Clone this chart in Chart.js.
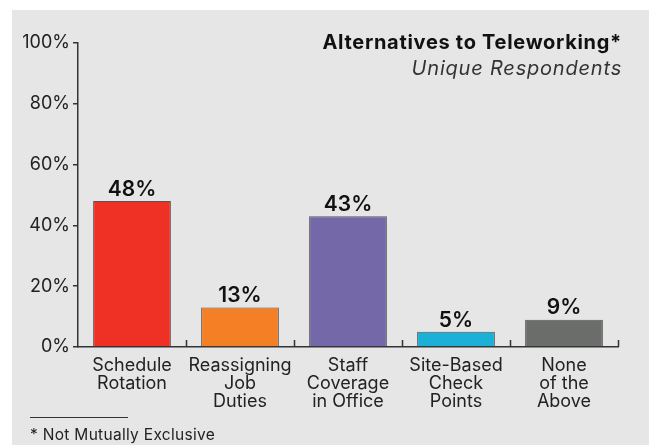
<!DOCTYPE html>
<html>
<head>
<meta charset="utf-8">
<script src="https://cdn.jsdelivr.net/npm/chart.js@4"></script>
<style>
  body { margin: 0; background: #fff; font-family: Inter, "Noto Sans", sans-serif; }
  .panel { position: absolute; left: 12px; top: 10px; width: 637px; height: 435px; background: #e6e6e6; }
  .wrap { position: absolute; left: 0; top: 0; width: 649px; height: 445px; }
  .title { position: absolute; right: 27px; top: 30px; font-size: 20px; letter-spacing: 0.7px; font-weight: 700; color: #111; text-align: right; }
  .sub { position: absolute; right: 27px; top: 56px; font-size: 20px; letter-spacing: 0.8px; font-style: italic; color: #333; text-align: right; }
  .rule { position: absolute; left: 30px; top: 417px; width: 98px; border-top: 1px solid #333; }
  .note { position: absolute; left: 30px; top: 425px; font-size: 15.5px; letter-spacing: 0.3px; color: #222; }
</style>
</head>
<body>
<div class="panel"></div>
<div class="wrap"><canvas id="chart" width="649" height="445"></canvas></div>
<div class="title">Alternatives to Teleworking*</div>
<div class="sub">Unique Respondents</div>
<div class="rule"></div>
<div class="note">* Not Mutually Exclusive</div>

<script>
// Data
var categories = [
	['Schedule', 'Rotation'],
	['Reassigning', 'Job', 'Duties'],
	['Staff', 'Coverage', 'in Office'],
	['Site-Based', 'Check', 'Points'],
	['None', 'of the', 'Above']
];
var values = [48, 13, 43, 5, 9];
var colors = ['#ee3124', '#f47f24', '#7468a8', '#1ab0d8', '#6b6d6b'];
var yTicks = [0, 20, 40, 60, 80, 100];

var axisColor = '#333';
var font = 'Inter, "Noto Sans", sans-serif';

// value labels + little upward ticks on the x axis
var extras = {
	id: 'extras',
	afterDatasetsDraw: function(chart) {
		var ctx = chart.ctx;
		var meta = chart.getDatasetMeta(0);
		ctx.save();
		ctx.fillStyle = '#111';
		ctx.font = '600 21px ' + font;
		ctx.textAlign = 'center';
		ctx.textBaseline = 'bottom';
		meta.data.forEach(function(bar, i) {
			ctx.fillText(values[i] + '%', bar.x, bar.y - 1);
		});

		var x = chart.scales.x;
		var half = (x.getPixelForValue(1) - x.getPixelForValue(0)) / 2;
		var bottom = chart.chartArea.bottom;
		ctx.strokeStyle = axisColor;
		ctx.lineWidth = 1.5;
		ctx.beginPath();
		for (var i = 0; i < categories.length; i++) {
			var px = Math.round(x.getPixelForValue(i) + half) + 0.5;
			ctx.moveTo(px, bottom);
			ctx.lineTo(px, bottom - 7);
		}
		ctx.stroke();
		ctx.restore();
	}
};

var chart = new Chart(document.getElementById('chart'), {
	type: 'bar',
	data: {
		labels: categories,
		datasets: [{
			data: values,
			backgroundColor: colors,
			borderColor: '#555',
			borderWidth: 1,
			barPercentage: 0.72,
			categoryPercentage: 1
		}]
	},
	options: {
		responsive: false,
		animation: false,
		layout: { padding: { left: 0, top: 43, right: 31, bottom: 0 } },
		plugins: { legend: { display: false }, tooltip: { enabled: false } },
		scales: {
			x: {
				afterFit: function(scale) { scale.height = 98; },
				grid: { display: false },
				border: { color: axisColor, width: 1.5 },
				ticks: {
					color: '#222',
					padding: 2,
					maxRotation: 0,
					autoSkip: false,
					font: { family: font, size: 18, lineHeight: 1.0 }
				}
			},
			y: {
				min: 0,
				max: 100,
				afterFit: function(scale) { scale.width = 78; },
				afterBuildTicks: function(scale) {
					scale.ticks = yTicks.map(function(v) { return { value: v }; });
				},
				grid: { drawOnChartArea: false, tickLength: 5, color: axisColor, lineWidth: 1.5 },
				border: { color: axisColor, width: 1.5 },
				ticks: {
					color: '#222',
					padding: 3,
					font: { family: font, size: 18 },
					callback: function(v) { return v + '%'; }
				}
			}
		}
	},
	plugins: [extras]
});
</script>
</body>
</html>
